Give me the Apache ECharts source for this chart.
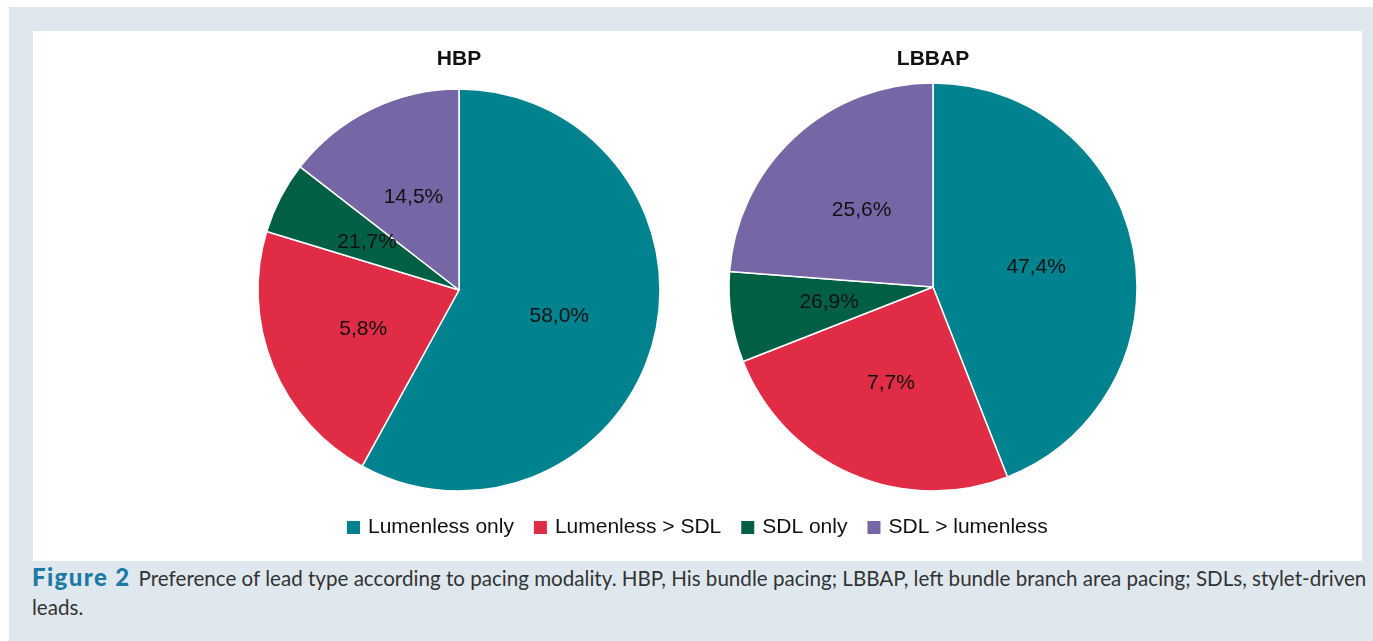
<!DOCTYPE html>
<html>
<head>
<meta charset="utf-8">
<script src="https://cdn.jsdelivr.net/npm/echarts@6/dist/echarts.min.js"></script>
<style>
html,body{margin:0;padding:0;width:1373px;height:641px;background:#fff;overflow:hidden;}
#bg{position:absolute;left:9px;top:7px;width:1364px;height:634px;background:#dfe8ef;}
#panel{position:absolute;left:33px;top:31px;width:1329px;height:530px;background:#fff;}
#chart{position:absolute;left:0;top:0;width:1373px;height:641px;}
.cap{position:absolute;left:32px;white-space:nowrap;font-family:Lato,"Open Sans",sans-serif;font-size:20.6px;line-height:28px;color:#333;}
.cap b{color:#1c7aa3;font-weight:900;font-size:24px;letter-spacing:1.4px;margin-right:8px;}
</style>
</head>
<body>
<div id="bg"></div>
<div id="panel"></div>
<div class="cap" style="top:563px"><b>Figure 2</b>Preference of lead type according to pacing modality. HBP, His bundle pacing; LBBAP, left bundle branch area pacing; SDLs, stylet-driven</div>
<div class="cap" style="top:593px">leads.</div>
<div id="chart"></div>
<script>
const categories = ["Lumenless only", "Lumenless > SDL", "SDL only", "SDL > lumenless"];
const colors = ["#00838f", "#e02d45", "#005f45", "#7666a5"];
const hbpValues = [58.0, 21.7, 5.8, 14.5];
const hbpLabels = ["58,0%", "5,8%", "21,7%", "14,5%"];
const lbbapValues = [47.4, 26.9, 7.7, 25.6];
const lbbapLabels = ["47,4%", "7,7%", "26,9%", "25,6%"];
const titles = ["HBP", "LBBAP"];

const FONT = 'Liberation Sans, Arial, sans-serif';
const chart = echarts.init(document.getElementById('chart'), null, {renderer: 'canvas'});
function pie(name, values, labels, center, radius) {
  return {
    type: 'pie', name: name, center: center, radius: radius,
    startAngle: 90, clockwise: true, animation: false,
    data: values.map((v, i) => ({name: categories[i], value: v, itemStyle: {color: colors[i]}})),
    itemStyle: {borderColor: '#fff', borderWidth: 1.5},
    label: {show: true, position: 'inside', formatter: p => labels[p.dataIndex],
      color: '#111', fontSize: 21, fontFamily: FONT},
    labelLine: {show: false},
    emphasis: {disabled: true}
  };
}
chart.setOption({
  backgroundColor: 'transparent',
  title: [
    {text: titles[0], left: 459, top: 49, padding: 0, textAlign: 'center', textStyle: {fontSize: 21, fontWeight: 'bold', color: '#111', fontFamily: FONT}},
    {text: titles[1], left: 933, top: 49, padding: 0, textAlign: 'center', textStyle: {fontSize: 21, fontWeight: 'bold', color: '#111', fontFamily: FONT}}
  ],
  legend: {
    data: categories, left: 345, top: 517, padding: 0, itemWidth: 15, itemHeight: 15, itemGap: 18,
    icon: 'rect', selectedMode: false,
    textStyle: {fontSize: 21, color: '#111', fontFamily: FONT, padding: [0, 0, 0, 2]}
  },
  series: [
    pie(titles[0], hbpValues, hbpLabels, [459, 290], 201),
    pie(titles[1], lbbapValues, lbbapLabels, [933, 287], 204)
  ]
});
</script>
</body>
</html>
